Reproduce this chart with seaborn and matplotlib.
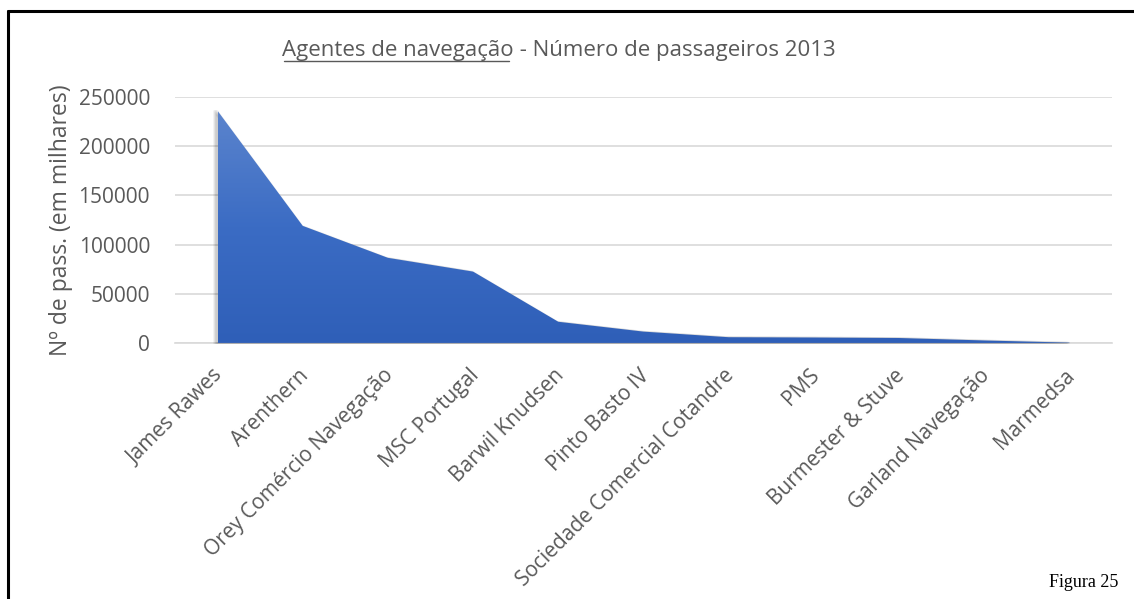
import numpy as np
import pandas as pd
import matplotlib
matplotlib.use("Agg")
import matplotlib.pyplot as plt
import matplotlib.transforms as mtransforms
from matplotlib.lines import Line2D
from matplotlib.colors import LinearSegmentedColormap
import seaborn as sns

# Data
agentes = ['James Rawes', 'Arenthern', 'Orey Comércio Navegação', 'MSC Portugal',
           'Barwil Knudsen', 'Pinto Basto IV', 'Sociedade Comercial Cotandre', 'PMS',
           'Burmester & Stuve', 'Garland Navegação', 'Marmedsa']
passageiros = [236000, 119000, 86500, 72500, 21500, 11500, 5800, 5500, 5000, 2500, 300]
y_ticks = [0, 50000, 100000, 150000, 200000, 250000]

df = pd.DataFrame({'agente': agentes, 'pass': passageiros})
df['pos'] = np.arange(len(df))

sns.set_style("white")
plt.rcParams['font.family'] = ['Open Sans', 'DejaVu Sans']
txt = '#595959'

fig = plt.figure(figsize=(11.34, 5.99), dpi=100)
ax = fig.add_axes([0.1543, 0.4275, 0.8263, 0.4105])

# gridlines
for t in y_ticks:
    ax.axhline(t, color='#d9d9d9', lw=1.2, zorder=0)

# soft shadow behind the area
for k, a in enumerate([0.05, 0.05, 0.05]):
    off = mtransforms.offset_copy(ax.transData, fig=fig, x=-(k + 1) * 1.2, y=0, units='dots')
    ax.fill_between(df['pos'], 0, df['pass'], color='black', alpha=a, lw=2, transform=off, zorder=1)

# area with vertical gradient
poly = ax.fill_between(df['pos'], 0, df['pass'], color='#3565bd', lw=0, zorder=2)
cmap = LinearSegmentedColormap.from_list('grad', ['#2f5fb8', '#3b6cc4', '#5b84cd'])
grad = np.linspace(0, 1, 256).reshape(-1, 1)
img = ax.imshow(grad, cmap=cmap, aspect='auto', origin='lower',
                extent=[0, len(df) - 1, 0, max(passageiros)], zorder=3)
img.set_clip_path(poly.get_paths()[0], transform=ax.transData)
poly.set_alpha(0)
sns.lineplot(data=df, x='pos', y='pass', ax=ax, lw=0, legend=False)

ax.set_xlim(-0.5, len(df) - 0.5)
ax.set_ylim(0, 250000)
ax.set_yticks(y_ticks)
ax.set_yticklabels([str(t) for t in y_ticks], fontsize=15, color=txt)
ax.set_xticks(df['pos'])
ax.set_xticklabels([])
# rotated category labels placed below each point
lab_tr = mtransforms.offset_copy(ax.get_xaxis_transform(), fig=fig, x=-5, y=-22, units='dots')
for p, name in zip(df['pos'], df['agente']):
    ax.text(p, 0, name, transform=lab_tr, rotation=45, ha='right', va='top',
            rotation_mode='anchor', fontsize=15, color=txt, clip_on=False)
ax.tick_params(axis='x', length=0)
ax.tick_params(axis='y', length=0, pad=18)
ax.set_xlabel('')
ax.set_ylabel('Nº de pass. (em milhares)', fontsize=16.5, color=txt, labelpad=4)
sns.despine(ax=ax, left=True, top=True, right=True, bottom=False)
ax.spines['bottom'].set_color('#d9d9d9')
ax.spines['bottom'].set_linewidth(1.2)
ax.spines['bottom'].set_zorder(0)

# title with underlined first part, centred as a whole
ty = 1 - 56 / 599
t1 = fig.text(0.5, ty, 'Agentes de navegação', ha='left', va='baseline', fontsize=16, color=txt)
t2 = fig.text(0.5, ty, ' - Número de passageiros 2013', ha='left', va='baseline', fontsize=16, color=txt)
fig.canvas.draw()
inv = fig.transFigure.inverted()
w1 = t1.get_window_extent().transformed(inv).width
w2 = t2.get_window_extent().transformed(inv).width
x0 = 559 / 1134 - (w1 + w2) / 2
t1.set_x(x0)
t2.set_x(x0 + w1)
fig.add_artist(Line2D([x0 + 0.001, x0 + w1 - 0.004], [ty - 0.0085, ty - 0.0085], color=txt, lw=1,
                      transform=fig.transFigure))

fig.text(0.986, 0.014, 'Figura 25', ha='right', va='bottom', fontsize=13,
         family=['Liberation Serif', 'DejaVu Serif'], color='black')

# frame lines (left and top)
fig.add_artist(Line2D([8 / 1134, 8 / 1134], [0, 1 - 11 / 599], color='black', lw=2.2, transform=fig.transFigure))
fig.add_artist(Line2D([8 / 1134, 1], [1 - 11 / 599, 1 - 11 / 599], color='black', lw=2.2, transform=fig.transFigure))

fig.savefig('out.png', dpi=100)
